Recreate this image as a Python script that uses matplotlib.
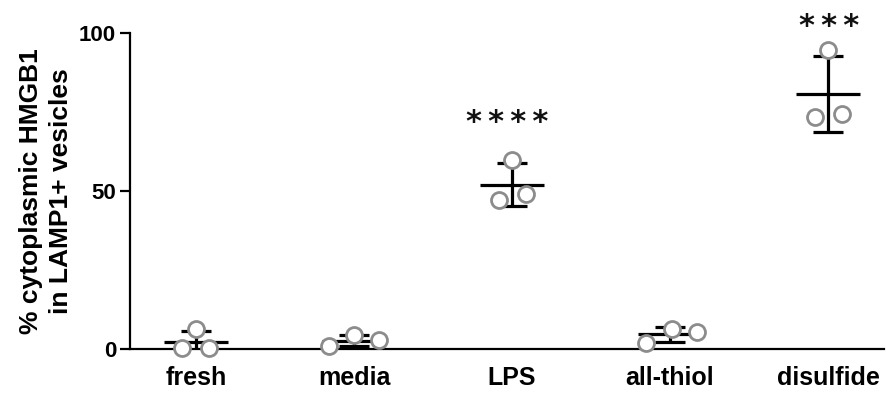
import numpy as np
import matplotlib
matplotlib.use('Agg')
import matplotlib.pyplot as plt

matplotlib.rcParams['font.family'] = ['Liberation Sans', 'DejaVu Sans']

groups = ['fresh', 'media', 'LPS', 'all-thiol', 'disulfide']
fresh = [0.3, 6.2, 0.5]
media = [1.0, 4.3, 2.8]
lps = [47.2, 59.8, 49.0]
all_thiol = [2.0, 6.5, 5.5]
disulfide = [73.4, 94.6, 74.4]
stars = ['', '', '*\u2009*\u2009*\u2009*', '', '*\u2009*\u2009*']
star_y = [0, 0, 69, 0, 99.5]
yticks = [0, 50, 100]

values = [fresh, media, lps, all_thiol, disulfide]
# horizontal scatter of the dots around each group centre
x_jitter = [[-0.09, 0.0, 0.08],
            [-0.16, 0.0, 0.16],
            [-0.08, 0.0, 0.09],
            [-0.15, 0.01, 0.17],
            [-0.08, 0.0, 0.09]]
star_dx = [0, 0, -0.03, 0, 0.01]

fig = plt.figure(figsize=(8.86, 3.94), dpi=100)
ax = fig.add_axes([0.1467, 0.114, 0.851, 0.802])

x = np.arange(len(groups))
for i, vals in enumerate(values):
    vals = np.array(vals)
    m = vals.mean()
    sd = vals.std(ddof=1)
    ax.errorbar(x[i], m, yerr=sd, fmt='none', ecolor='black', elinewidth=2.3,
                capsize=11, capthick=2.3, zorder=2)
    ax.hlines(m, x[i] - 0.2, x[i] + 0.2, color='black', linewidth=2.3, zorder=2)
    ax.plot(x[i] + np.array(x_jitter[i]), vals, 'o', ms=11.5, mfc='white',
            mec='#8c8c8c', mew=2.0, zorder=3, clip_on=False)
    if stars[i]:
        ax.text(x[i] + star_dx[i], star_y[i], stars[i], ha='center', va='baseline',
                fontsize=22, family='DejaVu Sans', fontweight='bold',
                color='#111111')

ax.set_xlim(-0.418, 4.354)
ax.set_ylim(0, 100)
ax.set_yticks(yticks)
ax.set_yticklabels([str(t) for t in yticks], fontsize=16, fontweight='bold')
ax.set_xticks(x)
ax.set_xticklabels(groups, fontsize=18, fontweight='bold')
ax.tick_params(axis='x', length=0, pad=12)
ax.tick_params(axis='y', length=7, width=1.6, pad=3)
ax.spines['top'].set_visible(False)
ax.spines['right'].set_visible(False)
ax.spines['left'].set_linewidth(1.6)
ax.spines['bottom'].set_linewidth(1.6)
ax.set_ylabel('% cytoplasmic HMGB1\nin LAMP1+ vesicles', fontsize=19,
              fontweight='bold', linespacing=1.35, labelpad=4)

fig.savefig('out.png', dpi=100)
